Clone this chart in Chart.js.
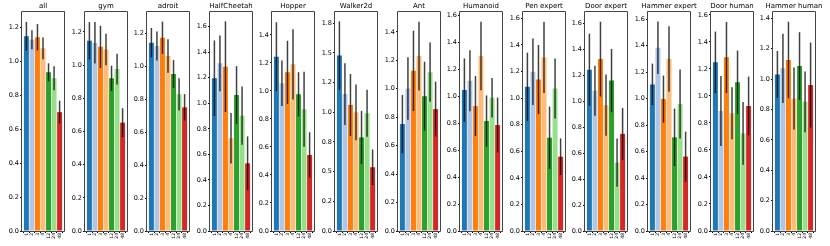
<!DOCTYPE html>
<html>
<head>
<meta charset="utf-8">
<script src="https://cdn.jsdelivr.net/npm/chart.js@4"></script>
<style>
    html, body { margin: 0; padding: 0; background: #fff; }
    #wrap { position: relative; width: 830px; height: 246px; overflow: hidden; }
    #wrap canvas { position: absolute; top: 0; }
</style>
</head>
<body>
<div id="wrap"></div>
<script>
const titles = ["all", "gym", "adroit", "HalfCheetah", "Hopper", "Walker2d", "Ant", "Humanoid",
    "Pen expert", "Door expert", "Hammer expert", "Door human", "Hammer human"];
const xLabels = ["1", "2", "3", "4", "12", "24", "48"];
const colors = ["#1f77b4", "#aec7e8", "#ff7f0e", "#ffbb78", "#2ca02c", "#98df8a", "#d62728"];

// bar heights, one row per panel
const means = [
    [1.147, 1.127, 1.141, 1.076, 0.935, 0.900, 0.700],
    [1.147, 1.135, 1.110, 1.094, 0.920, 0.976, 0.653],
    [1.144, 1.123, 1.174, 1.063, 0.953, 0.830, 0.751],
    [1.196, 1.313, 1.287, 0.726, 1.065, 0.903, 0.530],
    [1.245, 1.055, 1.133, 1.190, 0.976, 0.869, 0.543],
    [1.478, 1.154, 1.062, 1.000, 0.789, 0.992, 0.537],
    [0.752, 1.002, 1.126, 1.230, 0.948, 1.117, 0.857],
    [1.047, 1.116, 0.928, 1.300, 0.817, 0.990, 0.787],
    [1.085, 1.198, 1.140, 1.306, 0.702, 1.073, 0.559],
    [1.242, 1.080, 1.324, 0.969, 1.159, 0.527, 0.748],
    [1.108, 1.385, 0.997, 1.300, 0.708, 0.960, 0.562],
    [1.249, 0.889, 1.286, 0.872, 1.101, 0.723, 0.926],
    [1.031, 1.071, 1.126, 0.873, 1.086, 0.851, 0.961]
];
// half-length of each error bar
const errs = [
    [0.085, 0.056, 0.078, 0.064, 0.053, 0.071, 0.067],
    [0.112, 0.125, 0.127, 0.095, 0.076, 0.093, 0.087],
    [0.089, 0.088, 0.098, 0.102, 0.085, 0.098, 0.080],
    [0.296, 0.218, 0.355, 0.198, 0.226, 0.228, 0.211],
    [0.246, 0.162, 0.226, 0.250, 0.158, 0.268, 0.162],
    [0.288, 0.260, 0.261, 0.235, 0.223, 0.197, 0.150],
    [0.205, 0.220, 0.283, 0.242, 0.242, 0.208, 0.193],
    [0.235, 0.226, 0.223, 0.254, 0.190, 0.146, 0.204],
    [0.257, 0.250, 0.260, 0.267, 0.234, 0.226, 0.138],
    [0.278, 0.193, 0.288, 0.236, 0.244, 0.186, 0.200],
    [0.157, 0.198, 0.178, 0.248, 0.217, 0.261, 0.189],
    [0.228, 0.259, 0.263, 0.193, 0.235, 0.232, 0.218],
    [0.154, 0.228, 0.252, 0.204, 0.223, 0.200, 0.280]
];
const yMax = [1.29, 1.32, 1.33, 1.715, 1.564, 1.845, 1.54, 1.627, 1.648, 1.687, 1.655, 1.622, 1.442];
const yStep = [0.2, 0.2, 0.2, 0.2, 0.2, 0.25, 0.2, 0.2, 0.2, 0.2, 0.2, 0.2, 0.2];

const font = "DejaVu Sans";

// one decimal, ties to even (like %.1f in python)
function fmt(v) {
    const x = Math.round(v * 1000) / 100;
    const f = Math.floor(x);
    let r = Math.round(x);
    if (Math.abs(x - f - 0.5) < 1e-6) r = (f % 2 === 0) ? f : f + 1;
    return (r / 10).toFixed(1);
}

function makeDecor(i) {
    return {
        id: "decor" + i,
        afterDraw(chart) {
            const { ctx, chartArea: a, scales: { x, y } } = chart;
            ctx.save();
            // error bars
            ctx.strokeStyle = "rgba(0,0,0,0.75)";
            ctx.lineWidth = 1.5;
            means[i].forEach((m, j) => {
                const px = x.getPixelForValue(j);
                ctx.beginPath();
                ctx.moveTo(px, y.getPixelForValue(m - errs[i][j]));
                ctx.lineTo(px, y.getPixelForValue(m + errs[i][j]));
                ctx.stroke();
            });
            // frame
            const l = Math.round(a.left) - 0.5, r = Math.round(a.right) + 0.5;
            const t = Math.round(a.top) - 0.5, b = Math.round(a.bottom) + 0.5;
            ctx.strokeStyle = "#444";
            ctx.lineWidth = 1;
            ctx.beginPath();
            ctx.moveTo(l, t);
            ctx.lineTo(r, t);
            ctx.lineTo(r, b);
            ctx.lineTo(l, b);
            ctx.closePath();
            ctx.stroke();
            // title
            ctx.fillStyle = "#000";
            ctx.font = "7px '" + font + "'";
            ctx.textAlign = "center";
            ctx.fillText(titles[i], (a.left + a.right) / 2, 7.5);
            ctx.restore();
        }
    };
}

const wrap = document.getElementById("wrap");
titles.forEach((title, i) => {
    const canvas = document.createElement("canvas");
    canvas.width = 86;
    canvas.height = 246;
    canvas.style.left = Math.round(i * 62.6) + "px";
    wrap.appendChild(canvas);

    new Chart(canvas, {
        type: "bar",
        data: {
            datasets: [{
                data: means[i].map((v, j) => ({ x: j, y: v })),
                backgroundColor: colors,
                borderWidth: 0,
                barPercentage: 0.9,
                categoryPercentage: 1
            }]
        },
        options: {
            responsive: false,
            animation: false,
            devicePixelRatio: 1,
            layout: { padding: { top: 12, left: 0, right: 22, bottom: 0 } },
            plugins: { legend: { display: false }, tooltip: { enabled: false } },
            scales: {
                x: {
                    type: "linear",
                    min: -0.795,
                    max: 6.795,
                    offset: false,
                    afterFit: (s) => { s.height = 15; },
                    afterBuildTicks: (s) => { s.ticks = xLabels.map((_, j) => ({ value: j })); },
                    border: { display: false },
                    grid: { drawOnChartArea: false, tickLength: 2, color: "#000" },
                    ticks: {
                        autoSkip: false,
                        maxRotation: 90,
                        minRotation: 90,
                        padding: 0,
                        color: "#000",
                        font: { family: font, size: 4.5 },
                        callback: (v) => xLabels[v]
                    }
                },
                y: {
                    min: 0,
                    max: yMax[i],
                    afterFit: (s) => { s.width = 22; },
                    border: { display: false },
                    grid: { drawOnChartArea: false, tickLength: 2, color: "#000" },
                    ticks: {
                        stepSize: yStep[i],
                        includeBounds: false,
                        padding: 1,
                        color: "#000",
                        font: { family: font, size: 6.5 },
                        callback: (v) => fmt(v)
                    }
                }
            }
        },
        plugins: [makeDecor(i)]
    });
});
</script>
</body>
</html>
